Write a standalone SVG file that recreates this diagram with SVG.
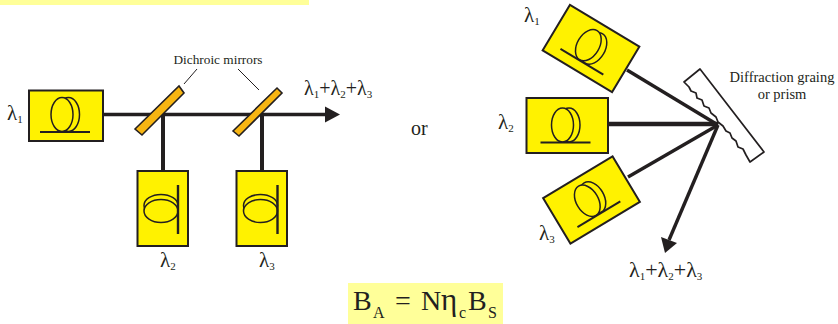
<svg xmlns="http://www.w3.org/2000/svg" width="838" height="324" viewBox="0 0 838 324">
<style>
text{font-family:"Liberation Serif","Times New Roman",serif;fill:#231f20}
.box{fill:#fff200;stroke:#231f20;stroke-width:2}
.coil{fill:#fff200;stroke:#231f20;stroke-width:1.5}
.base{stroke:#231f20;stroke-width:2;fill:none}
.mir{fill:#f7b512;stroke:#231f20;stroke-width:1.6}
.conn{stroke:#231f20;fill:none}
.lab{font-size:21px}
.sub{font-size:11px}
.sm{font-size:13.300px}
.gr{font-size:14.500px}
.hl{fill:#ffff99}
</style>
<defs>
<g id="coilH">
<ellipse class="coil" cx="6.5" cy="-0.5" rx="11" ry="17"/>
<ellipse class="coil" cx="0" cy="-0.5" rx="11" ry="17"/>
<line class="base" x1="-22" y1="17" x2="28" y2="17"/>
</g>
<g id="coilV">
<ellipse class="coil" cx="-17" cy="-4" rx="17" ry="11"/>
<ellipse class="coil" cx="-17" cy="1.5" rx="17" ry="11.5"/>
<line class="base" x1="0" y1="-24.5" x2="0" y2="24.5" style="stroke-width:2.4"/>
</g>
</defs>
<rect id="top-bar" class="hl" x="0" y="0" width="309" height="5"/>
<g id="connectors">
<line class="conn" stroke-width="3.500" x1="103" y1="114.5" x2="326" y2="114.5"/>
<polygon points="325,106.500 340,114.500 325,122.500" fill="#231f20"/>
<line class="conn" stroke-width="4" x1="163" y1="114" x2="163" y2="171"/>
<line class="conn" stroke-width="4" x1="262" y1="114" x2="262" y2="171"/>
<line class="conn" stroke-width="1" x1="197" y1="69" x2="184" y2="84"/>
<line class="conn" stroke-width="1" x1="238" y1="69" x2="259" y2="90"/>
<line class="conn" stroke-width="3.400" x1="627" y1="70" x2="718" y2="125"/>
<line class="conn" stroke-width="4.400" x1="608" y1="124" x2="718" y2="124"/>
<line class="conn" stroke-width="3.400" x1="628" y1="177" x2="718" y2="125"/>
<line class="conn" stroke-width="3.400" x1="718" y1="125" x2="669" y2="240"/>
<polygon points="665,253 661,237 677,243" fill="#231f20"/>
</g>
<g id="source-l1">
<rect class="box" x="29" y="90.500" width="74" height="50.500"/>
<use href="#coilH" x="62" y="115"/>
<text class="lab" x="7" y="120">λ<tspan class="sub" dy="3">1</tspan></text>
</g>
<g id="mirror-1"><polygon class="mir" points="135,129 179,86 184,93 142,135"/></g>
<g id="mirror-2"><polygon class="mir" points="233,131 277,88 282,93 239,136"/></g>
<g id="source-l2">
<rect class="box" x="137.500" y="171" width="50.500" height="75"/>
<use href="#coilV" x="178" y="209.500"/>
<text class="lab" x="160" y="267">λ<tspan class="sub" dy="3">2</tspan></text>
</g>
<g id="source-l3">
<rect class="box" x="236.500" y="171" width="50.500" height="75"/>
<use href="#coilV" x="277.500" y="209.500"/>
<text class="lab" x="259" y="267">λ<tspan class="sub" dy="3">3</tspan></text>
</g>
<g id="output-left"><text class="lab" style="font-size:20px" x="304" y="95">λ<tspan class="sub" dy="3">1</tspan><tspan dy="-3">+λ</tspan><tspan class="sub" dy="3">2</tspan><tspan dy="-3">+λ</tspan><tspan class="sub" dy="3">3</tspan></text></g>
<g id="mirror-label"><text class="sm" x="218" y="64" text-anchor="middle">Dichroic mirrors</text></g>
<g id="or-label"><text x="411" y="135" font-size="20">or</text></g>
<g id="source-r1">
<g transform="translate(591,48.500) rotate(31)">
<rect class="box" x="-40.500" y="-26.500" width="81" height="53"/>
<use href="#coilH" x="-4" y="-1"/>
</g>
<text class="lab" x="524" y="22">λ<tspan class="sub" dy="3">1</tspan></text>
</g>
<g id="source-r2">
<rect class="box" x="526.500" y="98" width="81.500" height="55"/>
<use href="#coilH" x="562.500" y="125.500"/>
<text class="lab" x="498" y="129">λ<tspan class="sub" dy="3">2</tspan></text>
</g>
<g id="source-r3">
<g transform="translate(591.500,200) rotate(-31)">
<rect class="box" x="-40.500" y="-26.500" width="81" height="53"/>
<use href="#coilH" x="-4" y="-1"/>
</g>
<text class="lab" x="539" y="240">λ<tspan class="sub" dy="3">3</tspan></text>
</g>
<g id="grating">
<polygon points="700,69 684,82 689,87 691,91 696,93 697,98 702,100 704,106 709,108 711,113 716,117 718,122 723,126 726,131 730,133 732,138 736,141 738,147 743,149 746,155 750,162 764,152" fill="#fff" stroke="#231f20" stroke-width="1.700" stroke-linejoin="round"/>
<text class="gr" x="782" y="82" text-anchor="middle">Diffraction graing</text>
<text class="gr" x="782" y="99" text-anchor="middle">or prism</text>
</g>
<g id="output-right"><text class="lab" style="font-size:22px" x="629" y="277">λ<tspan class="sub" dy="3">1</tspan><tspan dy="-3">+λ</tspan><tspan class="sub" dy="3">2</tspan><tspan dy="-3">+λ</tspan><tspan class="sub" dy="3">3</tspan></text></g>
<g id="formula">
<rect class="hl" x="348" y="283" width="155" height="41"/>
<text x="353" y="310" font-size="28">B<tspan x="373" y="318" font-size="16">A</tspan><tspan x="395" y="310">=</tspan><tspan x="421" y="310">N</tspan><tspan x="441" y="310" font-size="31">η</tspan><tspan x="459" y="318" font-size="16">c</tspan><tspan x="468" y="310">B</tspan><tspan x="488" y="318" font-size="16">S</tspan></text>
</g>
</svg>
